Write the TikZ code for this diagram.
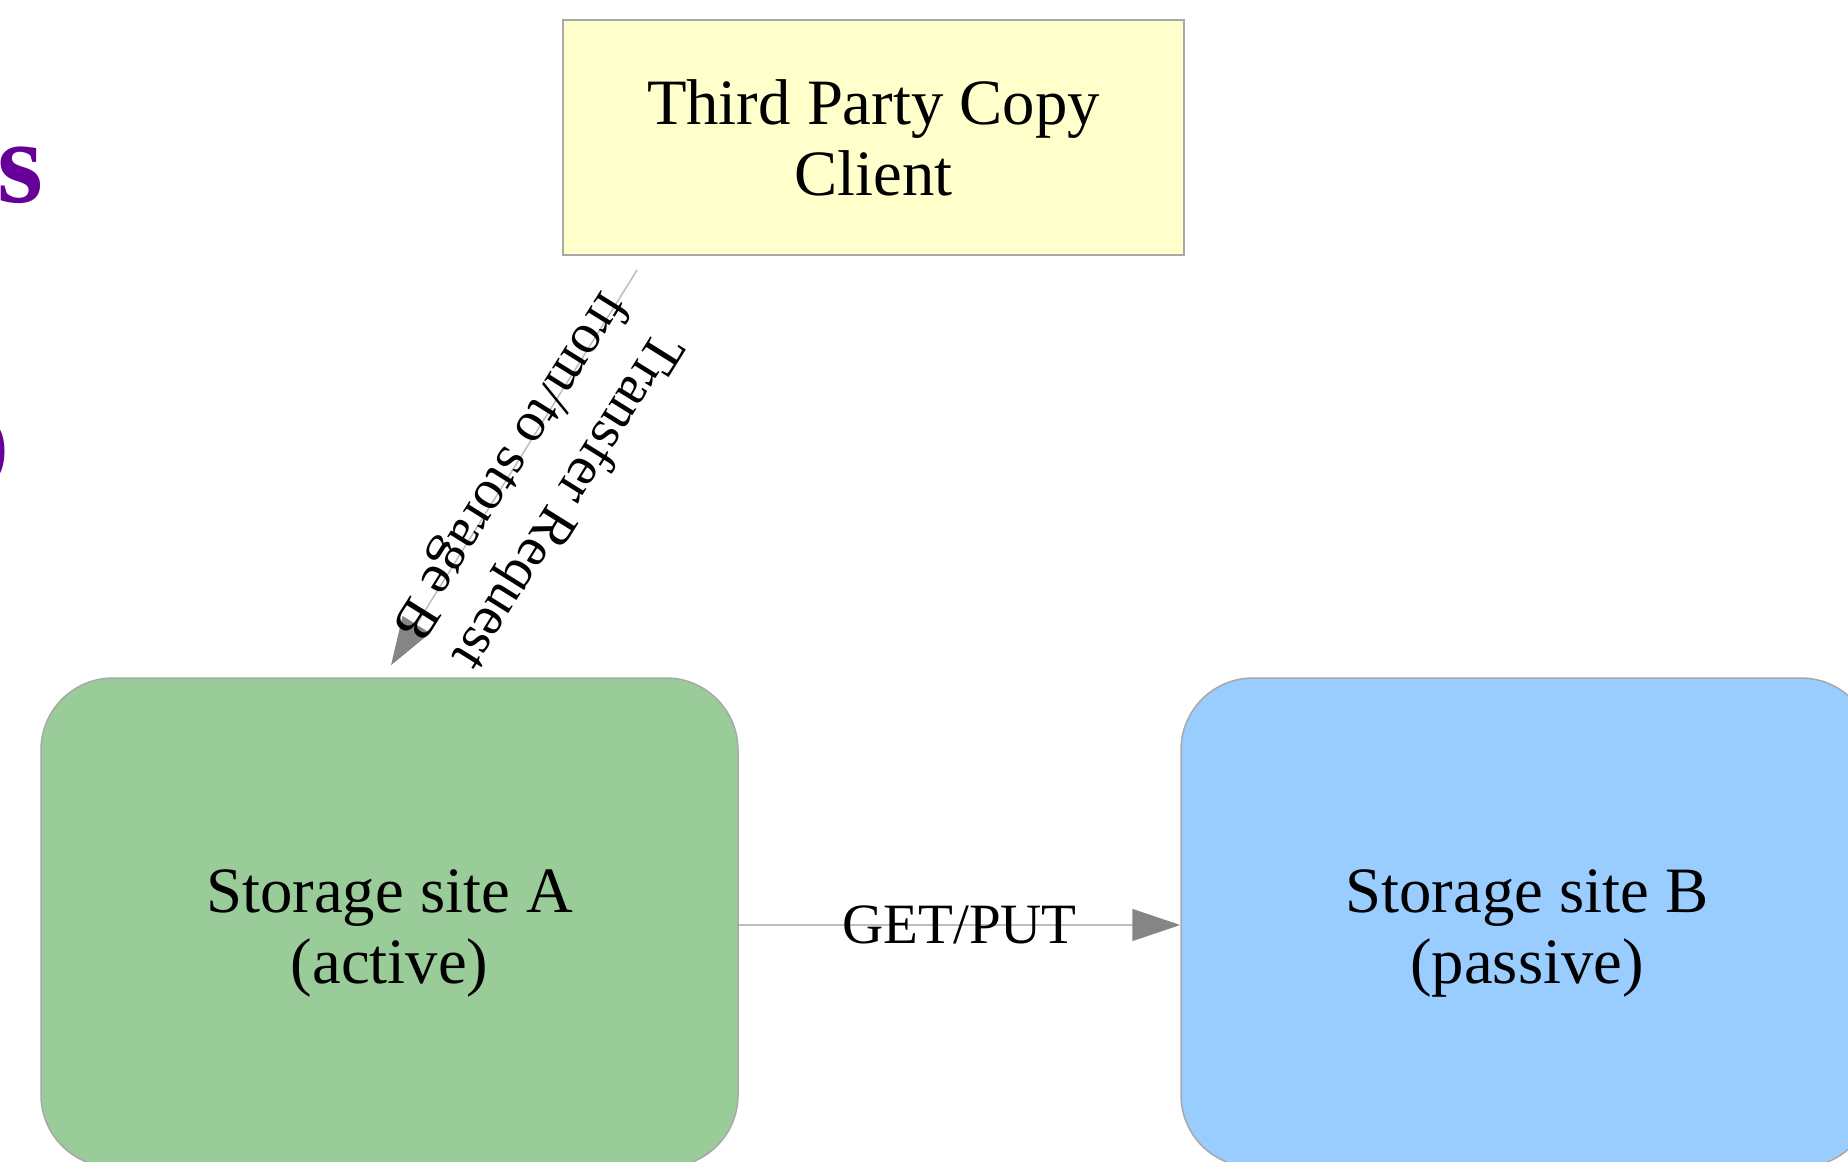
\documentclass[tikz,border=0pt]{standalone}
\usepackage{fontspec}
\setmainfont{Liberation Serif}
\usetikzlibrary{arrows.meta,calc}

\definecolor{clientfill}{HTML}{FFFFCC}
\definecolor{activefill}{HTML}{99CC99}
\definecolor{passivefill}{HTML}{99CCFF}
\definecolor{boxline}{HTML}{A8A8A8}
\definecolor{linkline}{HTML}{BDBDBD}
\definecolor{linkhead}{HTML}{858585}
\definecolor{titlepurple}{HTML}{660099}

% lifts the first text line so the label block sits slightly low in the box
\newcommand{\firstlinelift}{\rule{0pt}{65pt}}

\tikzset{
  nodefont/.style={font=\fontsize{64.7}{71}\selectfont},
  labelfont/.style={font=\fontsize{56.5}{67}\selectfont},
  clientbox/.style={draw=boxline, line width=1.5pt, fill=clientfill,
    minimum width=621pt, minimum height=235pt, align=center, inner sep=0pt, nodefont},
  sitebox/.style={draw=boxline, line width=1.5pt, rounded corners=72pt,
    minimum height=489pt, align=center, inner sep=0pt, nodefont},
  link/.style={draw=linkline, line width=1.5pt,
    -{Triangle[length=48pt,width=32pt,color=linkhead]}},
  edgetext/.style={labelfont, inner sep=0pt, align=center},
  slidetext/.style={text=titlepurple, font=\bfseries\fontsize{118}{118}\selectfont,
    inner sep=0pt, anchor=base west},
}

\begin{document}
\begin{tikzpicture}[x=1pt, y=-1pt]
  \useasboundingbox (0,0) rectangle (1848,1162);
  \clip (0,0) rectangle (1848,1162);

  % fragments of the slide title at the left margin
  \node[slidetext] (titleS) at (-3,202) {s};
  \node[slidetext] (titleD) at (-75,490) {D};

  % nodes
  \node[clientbox] (client) at (873.5,137.5) {Third Party Copy\\Client\hspace*{0pt}};
  \node[sitebox, fill=activefill, minimum width=697pt] (siteA) at (389.5,922.5)
    {\firstlinelift Storage site A\\(active)};
  \node[sitebox, fill=passivefill, minimum width=692pt] (siteB) at (1527,922.5)
    {\firstlinelift Storage site B\\(passive)};

  % transfer request from the client to the active site
  \draw[link] ($(client.south west)+(75,14)$) -- ($(siteA.north)+(1.5,-12)$);
  \node[edgetext, rotate=-122] (reqlabel) at (537,483)
    {Transfer Request\\from/to storage B};

  % data movement between the sites
  \draw[link] ($(siteA.east)+(0,2.5)$) -- ($(siteB.west)+(0,2.5)$)
    node[edgetext, midway, font=\fontsize{57}{67}\selectfont] (getput) {GET/PUT};
\end{tikzpicture}
\end{document}
